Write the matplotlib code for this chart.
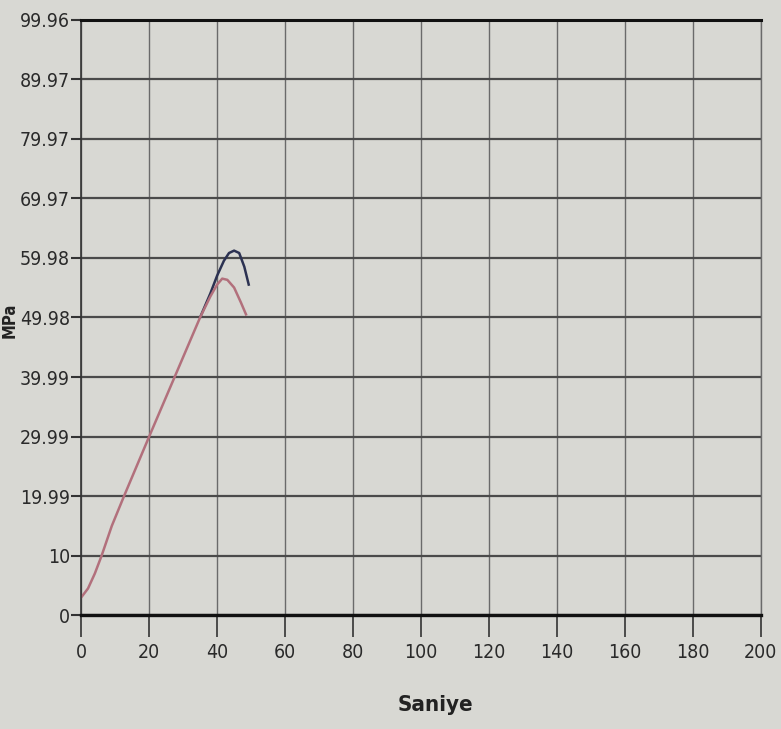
import matplotlib.pyplot as plt

# Test data (time in s, stress in MPa)
red_t = [0, 2, 4, 6, 9, 12.6, 20, 27.5, 35, 38, 40, 41.5, 43, 45, 47, 48.5]
red_s = [3, 4.5, 7, 10, 15, 20, 30, 40, 50, 53.5, 55.5, 56.5, 56.3, 55, 52.5, 50.5]
blue_t = [35, 38, 40, 42, 43.5, 45, 46.5, 48, 49.3]
blue_s = [50, 54, 57, 59.5, 60.8, 61.2, 60.8, 58.5, 55.5]

y_ticks = [0, 9.996, 19.992, 29.988, 39.984, 49.98, 59.976, 69.972, 79.968, 89.964, 99.96]
y_labels = ['0', '10', '19.99', '29.99', '39.99', '49.98', '59.98', '69.97', '79.97', '89.97', '99.96']
x_ticks = list(range(0, 201, 20))

fig = plt.figure(figsize=(7.81, 7.29), dpi=100, facecolor='#d8d8d3')
ax = fig.add_axes([0.104, 0.156, 0.87, 0.817])
ax.set_facecolor('#d8d8d3')

ax.plot(blue_t, blue_s, color='#2c3252', lw=1.8)
ax.plot(red_t, red_s, color='#b2707c', lw=1.8)

ax.set_xlim(0, 200)
ax.set_ylim(0, 99.96)
ax.set_xticks(x_ticks)
ax.set_yticks(y_ticks)
ax.set_yticklabels(y_labels)

for lab in ax.get_xticklabels() + ax.get_yticklabels():
    lab.set_family('DejaVu Sans')
    lab.set_stretch('condensed')
    lab.set_fontsize(14)
    lab.set_color('#2a2a2a')

ax.tick_params(axis='y', length=7, width=1.5, color='#333333', pad=1)
ax.tick_params(axis='x', length=16, width=1.2, color='#333333', pad=4)

ax.grid(axis='y', color='#4a4a4a', lw=1.6)
ax.grid(axis='x', color='#6a6a6a', lw=1.0)

ax.spines['top'].set_color('#111111')
ax.spines['top'].set_linewidth(2.2)
ax.spines['bottom'].set_color('#111111')
ax.spines['bottom'].set_linewidth(2.4)
ax.spines['left'].set_color('#333333')
ax.spines['left'].set_linewidth(1.2)
ax.spines['right'].set_color('#6a6a6a')
ax.spines['right'].set_linewidth(1.0)

fig.text(0.557, 0.033, 'Saniye', ha='center', va='center', fontsize=16,
         fontweight='bold', family='DejaVu Sans', stretch='condensed', color='#222222')
fig.text(0.0125, 0.56, 'MPa', ha='center', va='center', rotation=90, fontsize=12,
         fontweight='bold', family='DejaVu Sans', stretch='condensed', color='#222222')

fig.savefig('out.png', dpi=100, facecolor=fig.get_facecolor())
